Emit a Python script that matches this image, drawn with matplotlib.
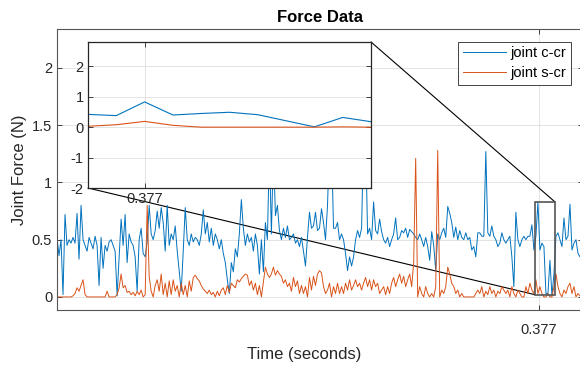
import numpy as np
import matplotlib
matplotlib.use("Agg")
import matplotlib.pyplot as plt
from matplotlib.patches import Rectangle, ConnectionPatch

plt.rcParams['font.family'] = ['Liberation Sans', 'DejaVu Sans']
plt.rcParams['axes.unicode_minus'] = False

joint_c_cr = [
    0.52, 0.36, 0.50, 0.02, 0.72, 0.45, 0.50, 0.47, 0.52, 0.47,
    0.73, 0.33, 0.80, 0.50, 0.45, 0.40, 0.52, 0.47, 0.42, 0.53,
    0.45, 0.10, 0.52, 0.25, 0.45, 0.40, 0.48, 0.50, 0.45, 0.40,
    0.01, 0.35, 0.68, 0.45, 0.72, 0.30, 0.55, 0.48, 0.45, 0.35,
    0.05, 0.50, 0.60, 0.38, 0.35, 0.48, 0.80, 0.55, 0.50, 0.58,
    0.75, 0.60, 0.78, 0.65, 0.40, 0.80, 0.45, 0.55, 0.50, 0.62,
    0.40, 0.22, 0.05, 0.40, 0.78, 0.50, 0.45, 0.55, 0.48, 0.52,
    0.50, 0.45, 0.55, 0.76, 0.55, 0.65, 0.48, 0.60, 0.45, 0.55,
    0.50, 0.42, 0.50, 0.38, 0.30, 0.15, 0.03, 0.30, 0.22, 0.42,
    0.35, 0.55, 0.85, 0.60, 0.45, 0.55, 0.48, 0.52, 0.40, 0.55,
    0.45, 0.20, 0.50, 0.22, 0.65, 0.50, 1.30, 0.55, 1.30, 0.71,
    0.80, 0.58, 0.50, 0.60, 0.52, 0.62, 0.50, 0.52, 0.55, 0.47,
    0.50, 0.44, 0.52, 0.40, 0.27, 0.52, 0.74, 0.60, 0.62, 0.74,
    0.58, 0.60, 0.77, 0.65, 0.50, 0.80, 1.35, 1.35, 0.60, 0.60,
    0.65, 0.50, 0.55, 0.50, 0.38, 0.23, 0.35, 0.27, 0.35, 0.50,
    0.58, 0.52, 0.60, 1.40, 1.40, 0.55, 0.60, 0.50, 0.83, 0.58,
    0.55, 0.68, 0.57, 0.50, 0.47, 0.52, 0.44, 0.50, 0.55, 0.69,
    0.50, 0.52, 0.58, 0.56, 0.60, 0.52, 0.59, 0.57, 0.55, 0.52,
    0.50, 0.55, 0.50, 0.44, 0.52, 0.44, 0.32, 0.57, 0.45, 0.23,
    0.55, 0.50, 0.56, 0.60, 0.52, 0.79, 0.73, 0.65, 0.52, 0.61,
    0.50, 0.58, 0.52, 0.50, 0.56, 0.50, 0.52, 0.41, 0.44, 0.35,
    0.56, 0.56, 0.53, 0.53, 1.27, 0.56, 0.53, 0.62, 0.53, 0.50,
    0.44, 0.47, 0.56, 0.50, 0.47, 0.50, 0.53, 0.35, 0.09, 0.74,
    0.50, 0.44, 0.50, 0.53, 0.50, 0.53, 0.53, 0.63, 0.41, 0.53,
    0.83, 0.41, 0.47, 0.44, 0.03, 0.03, 0.32, 0.01, 0.20, 0.53,
    0.56, 0.50, 0.44, 0.69, 0.50, 0.53, 0.81, 0.41, 0.47, 0.50,
    0.38, 0.35, 0.41,
]
joint_s_cr = [
    0.00, 0.00, 0.00, 0.00, 0.00, 0.00, 0.00, 0.00, 0.01, 0.03,
    0.08, 0.05, 0.10, 0.15, 0.02, 0.00, 0.00, 0.00, 0.00, 0.00,
    0.00, 0.00, 0.00, 0.00, 0.00, 0.05, 0.00, 0.00, 0.00, 0.00,
    0.02, 0.08, 0.20, 0.08, 0.10, 0.04, 0.05, 0.02, 0.04, 0.01,
    0.05, 0.02, 0.06, 0.00, 0.02, 0.80, 0.18, 0.05, 0.00, 0.10,
    0.15, 0.05, 0.20, 0.02, 0.12, 0.00, 0.14, 0.02, 0.15, 0.05,
    0.10, 0.00, 0.12, 0.02, 0.10, 0.00, 0.14, 0.05, 0.17, 0.19,
    0.16, 0.14, 0.10, 0.07, 0.05, 0.03, 0.06, 0.02, 0.04, 0.00,
    0.05, 0.01, 0.06, 0.08, 0.02, 0.10, 0.04, 0.12, 0.10, 0.08,
    0.15, 0.13, 0.16, 0.18, 0.20, 0.19, 0.10, 0.14, 0.06, 0.12,
    0.02, 0.10, 0.00, 0.13, 0.26, 0.20, 0.17, 0.20, 0.26, 0.19,
    0.23, 0.20, 0.18, 0.12, 0.15, 0.09, 0.12, 0.05, 0.17, 0.09,
    0.14, 0.03, 0.10, 0.03, 0.09, 0.00, 0.17, 0.06, 0.18, 0.10,
    0.20, 0.23, 0.21, 0.09, 0.03, 0.06, 0.12, 0.00, 0.09, 0.03,
    0.12, 0.03, 0.09, 0.03, 0.12, 0.06, 0.15, 0.06, 0.10, 0.15,
    0.09, 0.12, 0.06, 0.12, 0.17, 0.09, 0.15, 0.06, 0.15, 0.09,
    0.12, 0.03, 0.06, 0.09, 0.02, 0.09, 0.03, 0.12, 0.17, 0.09,
    0.15, 0.20, 0.12, 0.18, 0.09, 0.15, 0.20, 0.09, 0.30, 1.21,
    0.00, 0.09, 0.03, 0.00, 0.09, 0.03, 0.00, 0.03, 0.00, 0.09,
    1.28, 0.00, 0.06, 0.03, 0.09, 0.26, 0.20, 0.12, 0.09, 0.03,
    0.06, 0.00, 0.03, 0.00, 0.00, 0.00, 0.00, 0.00, 0.00, 0.03,
    0.06, 0.03, 0.09, 0.00, 0.05, 0.02, 0.09, 0.03, 0.06, 0.00,
    0.05, 0.03, 0.09, 0.06, 0.03, 0.06, 0.00, 0.09, 0.03, 0.00,
    0.06, 0.03, 0.00, 0.00, 0.09, 0.03, 0.12, 0.06, 0.03, 0.15,
    0.03, 0.09, 0.03, 0.00, 0.00, 0.03, 0.00, 0.00, 0.09, 0.20,
    0.09, 0.03, 0.00, 0.06, 0.03, 0.09, 0.12, 0.03, 0.09, 0.00,
    0.03, 0.01, 0.03,
]

# values shown in the zoomed inset
zoom_c_cr = [0.42, 0.38, 0.83, 0.40, 0.45, 0.49, 0.41, 0.21, 0.01, 0.32, 0.18]
zoom_s_cr = [0.03, 0.08, 0.19, 0.06, 0.00, 0.00, 0.00, 0.00, 0.00, 0.01, 0.00]

labels = ['joint c-cr', 'joint s-cr']
mark_time = 0.377
dt = 0.0015            # sample period (s)
mark_index = 240.5     # sample position of the 0.377 tick in the main axes

blue = '#0072BD'
orange = '#D95319'
dark = '#262626'

t0 = mark_time - mark_index * dt
t_main = t0 + dt * np.arange(len(joint_c_cr))
t_zoom = mark_time + dt * (np.arange(len(zoom_c_cr)) - 2)

fig = plt.figure(figsize=(5.8, 3.69), dpi=100)
ax = fig.add_axes([57 / 580, 59 / 369, 526 / 580, 281 / 369])

ax.plot(t_main, joint_c_cr, color=blue, lw=0.7, label=labels[0])
ax.plot(t_main, joint_s_cr, color=orange, lw=0.7, label=labels[1])
ax.set_xlim(t0, t0 + dt * (len(joint_c_cr) - 0.5))
ax.set_ylim(-0.114, 2.34)
ax.set_xticks([mark_time])
ax.set_xticklabels(['0.377'])
ax.set_yticks([0, 0.5, 1, 1.5, 2])
ax.set_yticklabels(['0', '0.5', '1', '1.5', '2'])
ax.grid(True, color='#dedede', lw=0.6)
ax.set_axisbelow(True)
ax.tick_params(direction='in', length=3.5, width=0.6, top=True, right=True,
               labelsize=10.5, colors=dark)
ax.tick_params(axis='x', pad=9)
for s in ax.spines.values():
    s.set_color('#555555')
    s.set_linewidth(0.8)

ax.set_title('Force Data', fontsize=12, fontweight='bold', color='black', pad=5)
ax.set_ylabel('Joint Force (N)', fontsize=12, color=dark)
ax.yaxis.set_label_coords(-0.057, 0.5)
ax.set_xlabel('Time (seconds)', fontsize=12, color=dark)
ax.xaxis.set_label_coords(0.469, -0.132)

leg = ax.legend(loc='upper right', bbox_to_anchor=(0.977, 0.954),
                borderaxespad=0, fontsize=10.5, handlelength=3.0,
                fancybox=False, framealpha=1, edgecolor=dark,
                labelspacing=0.42, borderpad=0.3, handletextpad=0.3)
leg.get_frame().set_linewidth(0.6)

# zoom rectangle on the main axes
rect_x0 = t_zoom[0]
rect_x1 = t_zoom[-1]
rect_y0, rect_y1 = 0.02, 0.83
ax.add_patch(Rectangle((rect_x0, rect_y0), rect_x1 - rect_x0, rect_y1 - rect_y0,
                       fill=False, edgecolor='#555555', lw=1.2, zorder=5))

# inset axes
ins = fig.add_axes([88 / 580, 181 / 369, 283 / 580, 146 / 369])
ins.plot(t_zoom, zoom_c_cr, color=blue, lw=0.8)
ins.plot(t_zoom, zoom_s_cr, color=orange, lw=0.8)
ins.set_xlim(t_zoom[0], t_zoom[-1])
ins.set_ylim(-2, 2.8)
ins.set_xticks([mark_time])
ins.set_xticklabels(['0.377'])
ins.set_yticks([-2, -1, 0, 1, 2])
ins.grid(True, color='#dedede', lw=0.6)
ins.set_axisbelow(True)
ins.tick_params(direction='in', length=3.5, width=0.6, top=True, right=True,
                labelsize=10.5, colors=dark, pad=3)
for s in ins.spines.values():
    s.set_color(dark)
    s.set_linewidth(0.9)

# lines joining the inset to the zoom rectangle
for xy_ins, xy_main in [((1, 1), (rect_x1, rect_y1)), ((0, 0), (rect_x0, rect_y0))]:
    con = ConnectionPatch(xyA=xy_ins, coordsA=ins.transAxes,
                          xyB=xy_main, coordsB=ax.transData,
                          color='black', lw=0.8)
    ax.add_artist(con)

fig.savefig('out.png', dpi=100)
